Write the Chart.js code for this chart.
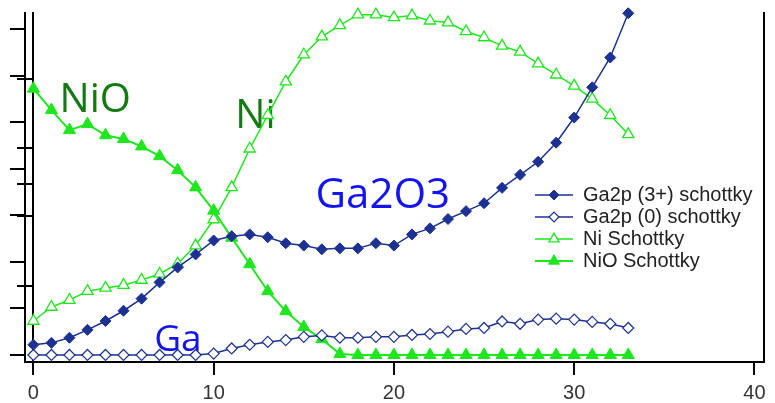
<!DOCTYPE html>
<html>
<head>
<meta charset="utf-8">
<script src="https://cdn.jsdelivr.net/npm/chart.js@4/dist/chart.umd.min.js"></script>
<style>
  html, body { margin: 0; padding: 0; background: #ffffff; }
  #wrap { width: 775px; height: 403px; }
</style>
</head>
<body>
<div id="wrap"><canvas id="depthProfile" width="775" height="403"></canvas></div>
<script>
// Sputter cycle index (x) and the four depth-profile series
const sputterCycles = [0,1,2,3,4,5,6,7,8,9,10,11,12,13,14,15,16,17,18,19,20,21,22,23,24,25,26,27,28,29,30,31,32,33];

const ga3Values = [2.2, 2.6, 3.7, 5.4, 7.3, 9.5, 12.1, 15.6, 18.8, 21.6, 24.6, 25.5, 25.9, 25.3, 24.0, 23.5, 22.7,
                   22.9, 22.9, 24.0, 23.5, 25.9, 27.2, 29.2, 30.9, 32.6, 35.9, 38.7, 41.5, 45.6, 51.0, 57.5, 63.9, 73.4];

const ga0Values = [0, 0, 0, 0, 0, 0, 0, 0, 0, 0, 0.3, 1.4, 2.2, 2.8, 3.2, 3.9, 4.2,
                   3.7, 3.7, 3.9, 3.9, 4.3, 4.5, 5.0, 5.6, 5.8, 7.2, 6.7, 7.6, 7.8, 7.6, 7.1, 6.7, 5.8];

const niValues = [7.3, 10.3, 11.8, 13.7, 14.4, 15.0, 16.1, 17.4, 19.6, 23.5, 29.1, 36.0, 44.3, 51.5, 58.7, 64.5, 68.4,
                  70.8, 73.1, 73.1, 72.5, 72.9, 71.8, 71.4, 69.5, 68.2, 66.4, 65.1, 62.6, 60.2, 57.8, 55.0, 51.5, 47.4];

const nioValues = [57.2, 52.6, 48.3, 49.6, 47.2, 46.4, 44.8, 42.7, 39.7, 36.0, 31.0, 25.2, 19.5, 13.7, 9.4, 6.0, 3.4,
                   0.2, 0, 0, 0, 0, 0, 0, 0, 0, 0, 0, 0, 0, 0, 0, 0, 0];

const seriesNames = ['Ga2p (3+) schottky', 'Ga2p (0) schottky', 'Ni Schottky', 'NiO Schottky'];

// Axis ticks
const xTickValues = [0, 10, 20, 30, 40];
const yTickValues = [0, 10, 20, 30, 40, 50, 60, 70];
const yInnerTickValues = [14.9, 29.8, 36.7, 44.5, 59.2];

const NAVY = '#1c3191';
const GREEN = '#1fe61f';
const DARK_GREEN = '#137a13';
const BLUE = '#1414ee';
const Y_MIN = -1.51, Y_MAX = 73.46;

const toPoints = vals => sputterCycles.map((x, i) => ({ x, y: vals[i] }));

const datasets = [
  { label: seriesNames[0], data: toPoints(ga3Values), borderColor: NAVY, borderWidth: 1.5,
    pointStyle: 'rectRot', pointRadius: 5.5, pointBackgroundColor: NAVY, pointBorderColor: NAVY, pointBorderWidth: 1 },
  { label: seriesNames[1], data: toPoints(ga0Values), borderColor: NAVY, borderWidth: 1.5,
    pointStyle: 'rectRot', pointRadius: 5.5, pointBackgroundColor: '#ffffff', pointBorderColor: NAVY, pointBorderWidth: 1.2 },
  { label: seriesNames[2], data: toPoints(niValues), borderColor: GREEN, borderWidth: 1.5,
    pointStyle: 'triangle', pointRadius: 6.5, pointBackgroundColor: '#ffffff', pointBorderColor: GREEN, pointBorderWidth: 1.3 },
  { label: seriesNames[3], data: toPoints(nioValues), borderColor: GREEN, borderWidth: 2,
    pointStyle: 'triangle', pointRadius: 7, pointBackgroundColor: GREEN, pointBorderColor: GREEN, pointBorderWidth: 1 }
];
datasets.forEach(d => { d.clip = false; d.tension = 0; d.fill = false; d.backgroundColor = d.pointBackgroundColor; });

// Legend swatch: a short line with the series marker in its middle
function legendSwatch(ds) {
  const c = document.createElement('canvas');
  c.width = 38; c.height = 16;
  const g = c.getContext('2d');
  g.strokeStyle = ds.borderColor;
  g.lineWidth = ds.borderWidth;
  g.beginPath(); g.moveTo(0, 8); g.lineTo(38, 8); g.stroke();
  g.fillStyle = ds.pointBackgroundColor;
  g.strokeStyle = ds.pointBorderColor;
  g.lineWidth = ds.pointBorderWidth;
  Chart.helpers.drawPoint(g, { pointStyle: ds.pointStyle, radius: ds.pointRadius * 0.9, rotation: 0,
                               borderWidth: ds.pointBorderWidth }, 19, 8);
  return c;
}

// Large phase labels written over the plot, anchored in axis units
const regionLabels = [
  { text: 'NiO',   x: 1.45,  y: 52.3, size: 40, color: DARK_GREEN },
  { text: 'Ni',    x: 11.2,  y: 48.8, size: 40, color: DARK_GREEN },
  { text: 'Ga2O3', x: 15.65, y: 31.5, size: 42, color: BLUE },
  { text: 'Ga',    x: 6.7,   y: 0.86, size: 37, color: BLUE }
];

const regionLabelPlugin = {
  id: 'regionLabels',
  beforeDatasetsDraw(chart) {
    const { ctx, scales: { x, y } } = chart;
    ctx.save();
    ctx.textAlign = 'left';
    ctx.textBaseline = 'alphabetic';
    regionLabels.forEach(l => {
      ctx.font = l.size + 'px "Open Sans"';
      ctx.fillStyle = l.color;
      ctx.fillText(l.text, x.getPixelForValue(l.x), y.getPixelForValue(l.y));
    });
    ctx.restore();
  }
};

// Put the legend block inside the plot, right of centre
const legendPlacement = {
  id: 'legendPlacement',
  afterLayout(chart) {
    const lg = chart.legend;
    lg.left = 533; lg.top = 183;
    lg.right = lg.left + lg.width;
    lg.height = 120; lg.bottom = lg.top + lg.height;
  }
};

const fixedTicks = values => scale => { scale.ticks = values.map(v => ({ value: v })); };

new Chart(document.getElementById('depthProfile'), {
  type: 'line',
  data: { datasets },
  plugins: [regionLabelPlugin, legendPlacement],
  options: {
    responsive: false,
    animation: false,
    devicePixelRatio: 1,
    layout: { padding: { top: 13, left: 10, right: 3, bottom: -8 } },
    plugins: {
      tooltip: { enabled: false },
      legend: {
        position: 'chartArea',
        align: 'start',
        labels: {
          usePointStyle: true,
          pointStyleWidth: 38,
          padding: 2,
          color: '#222222',
          font: { size: 20, family: 'Liberation Sans' },
          generateLabels(chart) {
            return chart.data.datasets.map((ds, i) => ({
              text: ds.label, datasetIndex: i, pointStyle: legendSwatch(ds),
              fillStyle: ds.pointBackgroundColor, strokeStyle: ds.borderColor,
              lineWidth: 0, hidden: false, fontColor: '#222222'
            }));
          }
        }
      }
    },
    scales: {
      x: {
        type: 'linear', min: -0.466, max: 40.53,
        afterBuildTicks: fixedTicks(xTickValues),
        grid: { drawOnChartArea: false, drawTicks: true, tickLength: 13, tickColor: '#000', tickWidth: 2, lineWidth: 2 },
        border: { color: '#000', width: 2 },
        ticks: { color: '#333333', font: { size: 20, family: 'Liberation Sans' }, padding: 6, maxRotation: 0, autoSkip: false }
      },
      y: {
        type: 'linear', position: 'left', min: Y_MIN, max: Y_MAX,
        afterBuildTicks: fixedTicks(yTickValues),
        ticks: { display: false },
        grid: { drawOnChartArea: false, drawTicks: true, tickLength: 15, tickColor: '#000', tickWidth: 2, lineWidth: 2 },
        border: { color: '#000', width: 2 }
      },
      yInner: {
        type: 'linear', position: { x: 0 }, min: Y_MIN, max: Y_MAX,
        afterBuildTicks: fixedTicks(yInnerTickValues),
        ticks: { display: false },
        grid: { drawOnChartArea: false, drawTicks: true, tickLength: 15, tickColor: '#000', tickWidth: 2, lineWidth: 2 },
        border: { color: '#000', width: 2 }
      },
      yRight: {
        type: 'linear', position: 'right',
        ticks: { display: false },
        grid: { display: false },
        border: { color: '#000', width: 2 }
      }
    }
  }
});
</script>
</body>
</html>
